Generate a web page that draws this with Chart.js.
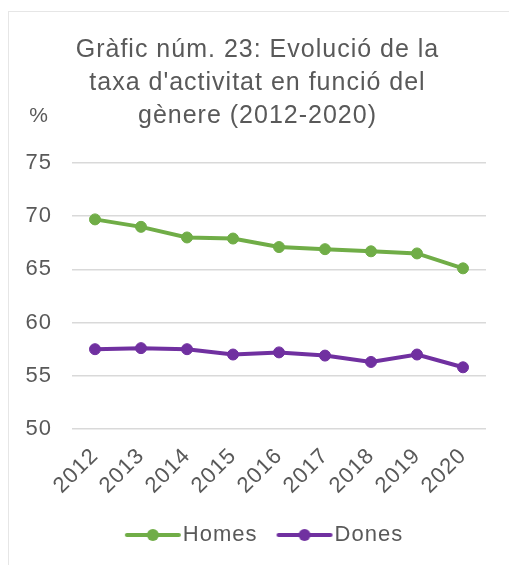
<!DOCTYPE html>
<html>
<head>
<meta charset="utf-8">
<script src="https://cdn.jsdelivr.net/npm/chart.js@4"></script>
<style>
  body { margin: 0; background: #fff; }
  #box {
    position: absolute; left: 8px; top: 11px;
    width: 501px; height: 554px;
    border-left: 1px solid #e6e6e6; border-top: 1px solid #e6e6e6;
  }
</style>
</head>
<body>
<div id="box"><canvas id="myChart" width="500" height="553"></canvas></div>
<script>
const years = ['2012', '2013', '2014', '2015', '2016', '2017', '2018', '2019', '2020'];
const homes = [69.7, 69.0, 68.0, 67.9, 67.1, 66.9, 66.7, 66.5, 65.1];
const dones = [57.5, 57.6, 57.5, 57.0, 57.2, 56.9, 56.3, 57.0, 55.8];
const yTicks = [50, 55, 60, 65, 70, 75];

const green = '#70AD47';
const purple = '#7030A0';
const grey = '#595959';
const fontFamily = '"Liberation Sans", Arial, sans-serif';

// legend marker: line with a dot in the middle
function legendMarker(color) {
  const c = document.createElement('canvas');
  c.width = 60;
  c.height = 14;
  const g = c.getContext('2d');
  g.strokeStyle = color;
  g.lineWidth = 4;
  g.lineCap = 'round';
  g.beginPath();
  g.moveTo(5, 7);
  g.lineTo(57, 7);
  g.stroke();
  g.fillStyle = color;
  g.beginPath();
  g.arc(31, 7, 6, 0, Math.PI * 2);
  g.fill();
  return c;
}

// the reference text is a bit wider than Arial, add some letter spacing
const spacing = {
  id: 'spacing',
  beforeUpdate(chart) { chart.ctx.letterSpacing = '1px'; },
  beforeDraw(chart) { chart.ctx.letterSpacing = '1px'; }
};

// legend sits a little right of centre in the reference
const legendShift = {
  id: 'legendShift',
  afterLayout(chart) {
    chart.legend.left += 10;
    chart.legend.right += 10;
  }
};

// "%" unit label above the y axis
const unitLabel = {
  id: 'unitLabel',
  afterDraw(chart) {
    const ctx = chart.ctx;
    const area = chart.chartArea;
    ctx.save();
    ctx.fillStyle = grey;
    ctx.font = '21px ' + fontFamily;
    ctx.textAlign = 'center';
    ctx.textBaseline = 'middle';
    ctx.fillText('%', area.left - 33, area.top - 47);
    ctx.restore();
  }
};

const ctx = document.getElementById('myChart').getContext('2d');

const myChart = new Chart(ctx, {
  type: 'line',
  data: {
    labels: years,
    datasets: [
      {
        label: 'Homes',
        data: homes,
        borderColor: green,
        backgroundColor: green,
        borderWidth: 4,
        pointRadius: 5.5,
        pointBorderWidth: 1,
        pointStyle: 'circle',
        tension: 0
      },
      {
        label: 'Dones',
        data: dones,
        borderColor: purple,
        backgroundColor: purple,
        borderWidth: 4,
        pointRadius: 5.5,
        pointBorderWidth: 1,
        pointStyle: 'circle',
        tension: 0
      }
    ]
  },
  options: {
    responsive: false,
    animation: false,
    devicePixelRatio: 1,
    layout: { padding: { top: 0, right: 3, bottom: 9, left: 0 } },
    plugins: {
      title: {
        display: true,
        text: ["Gràfic núm. 23: Evolució de la", "taxa d'activitat en funció del", 'gènere (2012-2020)'],
        color: grey,
        font: { family: fontFamily, size: 25, weight: 'normal', lineHeight: 1.32 },
        padding: { top: 21.5, bottom: 30.5 }
      },
      legend: {
        position: 'bottom',
        labels: {
          color: grey,
          font: { family: fontFamily, size: 22 },
          usePointStyle: true,
          pointStyleWidth: 40,
          padding: 26,
          generateLabels(chart) {
            return chart.data.datasets.map((ds, i) => ({
              text: ds.label,
              fillStyle: ds.borderColor,
              strokeStyle: ds.borderColor,
              fontColor: grey,
              pointStyle: legendMarker(ds.borderColor),
              datasetIndex: i
            }));
          }
        }
      },
      tooltip: { enabled: false }
    },
    scales: {
      x: {
        offset: true,
        grid: { display: false },
        border: { display: false },
        ticks: {
          color: grey,
          font: { family: fontFamily, size: 22 },
          minRotation: 45,
          maxRotation: 45,
          padding: 6
        },
        afterFit(scale) { scale.height = 69; }
      },
      y: {
        min: 50,
        max: 75,
        afterBuildTicks(scale) {
          scale.ticks = yTicks.map(v => ({ value: v }));
        },
        grid: { color: '#d9d9d9', lineWidth: 1.5, drawTicks: false },
        border: { display: false },
        ticks: {
          color: grey,
          font: { family: fontFamily, size: 22 },
          padding: 20
        },
        afterFit(scale) { scale.width = 63; }
      },
      // empty space on the right of the plot
      y2: {
        position: 'right',
        min: 0,
        max: 1,
        grid: { display: false },
        border: { display: false },
        ticks: { display: false },
        afterFit(scale) { scale.width = 20; }
      }
    }
  },
  plugins: [spacing, legendShift, unitLabel]
});
</script>
</body>
</html>
